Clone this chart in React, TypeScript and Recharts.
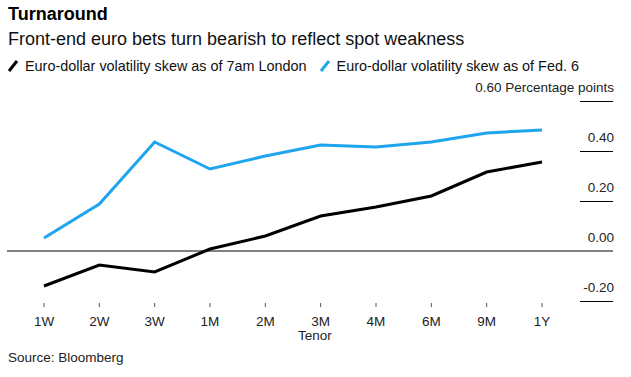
import React from 'react';
import { LineChart, Line, XAxis, YAxis, ReferenceLine, Legend } from 'recharts';

const tenors = ['1W', '2W', '3W', '1M', '2M', '3M', '4M', '6M', '9M', '1Y'];
const skewNow = [-0.14, -0.056, -0.084, 0.008, 0.06, 0.14, 0.176, 0.22, 0.316, 0.356];
const skewFeb6 = [0.052, 0.188, 0.436, 0.328, 0.38, 0.424, 0.416, 0.436, 0.472, 0.484];
const yTicks = [-0.2, 0, 0.2, 0.4, 0.6];
const seriesNames = ['Euro-dollar volatility skew as of 7am London', 'Euro-dollar volatility skew as of Fed. 6'];
const seriesColors = ['#000000', '#1fa5ee'];

const data = tenors.map((t, i) => ({ tenor: t, now: skewNow[i], feb6: skewFeb6[i] }));

const FONT = '"Liberation Sans", Arial, Helvetica, sans-serif';

const XTick = (props: any) => {
  const { x, y, payload } = props;
  return (
    <g>
      <line x1={x} x2={x} y1={y + 2} y2={y + 6} stroke="#555" strokeWidth={1} />
      <text x={x} y={y + 25} textAnchor="middle" fontSize={13.5} fill="#222" fontFamily={FONT}>
        {payload.value}
      </text>
    </g>
  );
};

const YTick = (props: any) => {
  const { x, y, payload } = props;
  const v = Number(payload.value);
  const label = v.toFixed(2) + (Math.abs(v - 0.6) < 1e-9 ? ' Percentage points' : '');
  return (
    <g>
      {Math.abs(v) > 1e-9 && (
        <line x1={x - 33} x2={x} y1={Math.round(y) + 0.5} y2={Math.round(y) + 0.5} stroke="#000" strokeWidth={1} />
      )}
      <text x={x + 1} y={y - 9} textAnchor="end" fontSize={13.5} fill="#222" fontFamily={FONT}>
        {label}
      </text>
    </g>
  );
};

const LegendContent = () => (
  <div style={{ display: 'flex', alignItems: 'center', fontFamily: FONT, fontSize: 14.4, color: '#111' }}>
    {seriesNames.map((n, i) => (
      <div key={n} style={{ display: 'flex', alignItems: 'center', marginRight: 12 }}>
        <svg width={12} height={14} style={{ marginRight: 6 }}>
          <line x1={2} y1={12} x2={10} y2={2} stroke={seriesColors[i]} strokeWidth={3} />
        </svg>
        <span>{n}</span>
      </div>
    ))}
  </div>
);

export default function App() {
  return (
    <div style={{ position: 'absolute', left: 0, top: 0, width: 631, height: 377, background: '#fff', overflow: 'hidden' }}>
      <div style={{ position: 'absolute', left: 8, top: 4, fontFamily: FONT, fontWeight: 'bold', fontSize: 18, color: '#000' }}>
        Turnaround
      </div>
      <div style={{ position: 'absolute', left: 8, top: 29, fontFamily: FONT, fontSize: 18, color: '#111' }}>
        Front-end euro bets turn bearish to reflect spot weakness
      </div>
      <div style={{ position: 'absolute', left: 0, top: 0 }}>
        <LineChart width={631} height={377} data={data} margin={{ top: 101, right: 18, bottom: 36, left: 7 }}>
          <Legend
            verticalAlign="middle"
            align="center"
            layout="horizontal"
            content={<LegendContent />}
            wrapperStyle={{ position: 'absolute', top: 58, left: 7, width: 620, height: 18 }}
          />
          <XAxis
            dataKey="tenor"
            height={40}
            padding={{ left: 37, right: 71 }}
            axisLine={false}
            tickLine={false}
            tickSize={0}
            tickMargin={0}
            interval={0}
            tick={<XTick />}
          />
          <YAxis
            orientation="right"
            mirror
            domain={[-0.2, 0.6]}
            ticks={yTicks}
            axisLine={false}
            tickLine={false}
            tickSize={0}
            tickMargin={0}
            interval={0}
            tick={<YTick />}
          />
          <ReferenceLine y={0} stroke="#000" strokeWidth={1} />
          <Line type="linear" dataKey="feb6" name={seriesNames[1]} stroke={seriesColors[1]} strokeWidth={3} dot={false} isAnimationActive={false} />
          <Line type="linear" dataKey="now" name={seriesNames[0]} stroke={seriesColors[0]} strokeWidth={3} dot={false} isAnimationActive={false} />
        </LineChart>
      </div>
      <div style={{ position: 'absolute', left: 298, top: 328, fontFamily: FONT, fontSize: 13.5, color: '#222' }}>
        Tenor
      </div>
      <div style={{ position: 'absolute', left: 8, top: 350, fontFamily: FONT, fontSize: 13.5, color: '#222' }}>
        Source: Bloomberg
      </div>
    </div>
  );
}
